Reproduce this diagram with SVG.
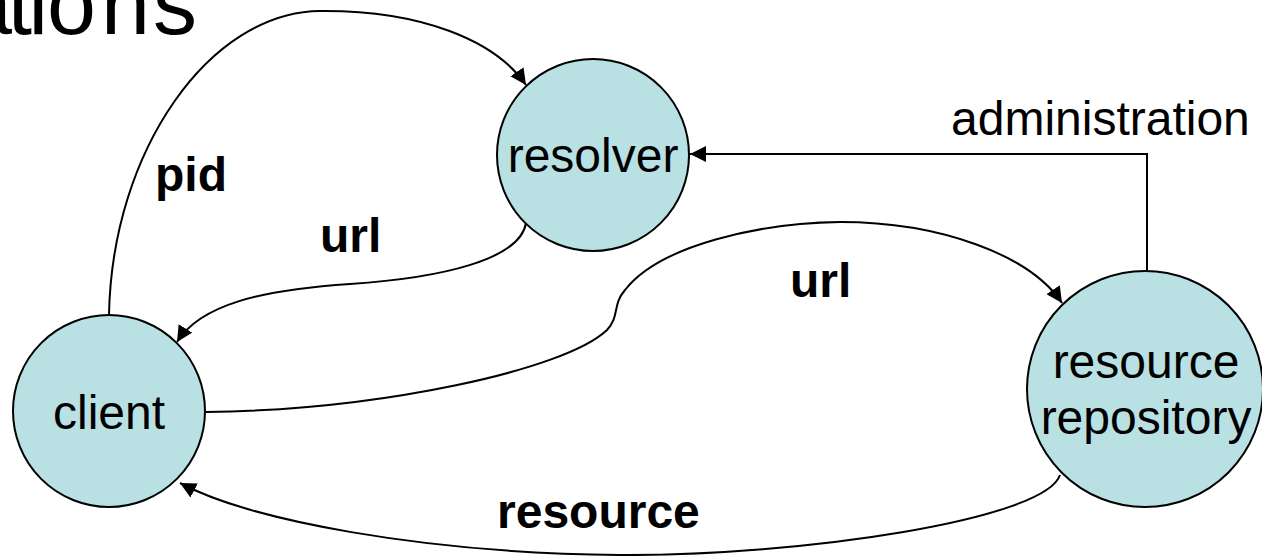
<svg xmlns="http://www.w3.org/2000/svg" width="1262" height="556" viewBox="0 0 1262 556">
<style>
.node{fill:#b9e0e3;stroke:#000;stroke-width:2}
.lbl{font-family:"Liberation Sans",Arial,sans-serif;font-size:48px;fill:#000;text-anchor:middle}
.elbl{font-family:"Liberation Sans",Arial,sans-serif;font-size:48px;font-weight:bold;fill:#000}
.edge{fill:none;stroke:#000;stroke-width:2}
</style>
<defs>
<marker id="arr" viewBox="0 0 16 16" refX="16" refY="8" markerWidth="16" markerHeight="16" markerUnits="userSpaceOnUse" orient="auto">
<path d="M0,0 L16,8 L0,16 Z" fill="#000"/>
</marker>
</defs>
<rect width="1262" height="556" fill="#fff"/>
<text x="-37 7.5 28.6 47 101 153" y="34" font-family="Liberation Sans,Arial,sans-serif" font-size="88" fill="#000">ations</text>
<g id="connectors">
<path class="edge" d="M109,315 C112,150 210,12 320,11 C420,10 495,40 526,85" marker-end="url(#arr)"/>
<path class="edge" d="M526,223 C520,260 440,278 350,284 C260,290 200,305 177,342" marker-end="url(#arr)"/>
<path class="edge" d="M206,412 C380,410 565,370 607,330 C620,316 612,305 625,290 C660,245 760,223 840,222 C940,222 1030,255 1062,303" marker-end="url(#arr)"/>
<path class="edge" d="M1060,475 C1045,520 800,556 620,555 C420,553 250,520 180,483" marker-end="url(#arr)"/>
<path class="edge" d="M1147,270 L1147,154 L690,154" marker-end="url(#arr)"/>
<text class="elbl" x="155" y="191">pid</text>
<text class="elbl" x="320" y="252">url</text>
<text class="elbl" x="790" y="297">url</text>
<text class="elbl" x="497" y="528">resource</text>
<text x="951" y="135" font-family="Liberation Sans,Arial,sans-serif" font-size="48" fill="#000">administration</text>
</g>
<g id="resolver">
<circle class="node" cx="593" cy="155" r="96"/>
<text class="lbl" x="593" y="172">resolver</text>
</g>
<g id="client">
<circle class="node" cx="109" cy="411" r="96"/>
<text class="lbl" x="109" y="429">client</text>
</g>
<g id="repository">
<circle class="node" cx="1145" cy="389" r="118"/>
<text class="lbl" x="1146" y="378">resource</text>
<text class="lbl" x="1146" y="434">repository</text>
</g>
</svg>
